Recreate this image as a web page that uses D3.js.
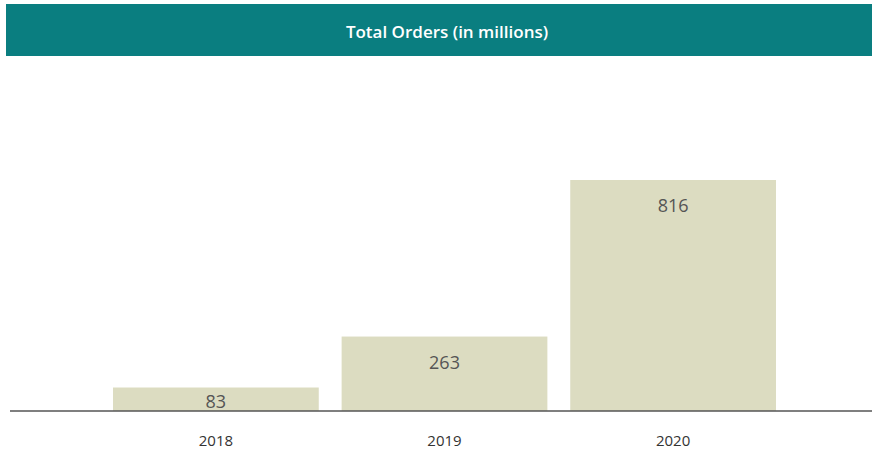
<!DOCTYPE html>
<html>
<head>
<meta charset="utf-8">
<script src="https://cdn.jsdelivr.net/npm/d3@7"></script>
<style>
  body { margin: 0; background: #fff; }
  svg { display: block; font-family: "Open Sans", Lato, sans-serif; }
</style>
</head>
<body>
<div id="chart"></div>
<script>
const width = 872;
const height = 455;

// values
const years = ["2018", "2019", "2020"];
const orders = [83, 263, 816];
const title = "Total Orders (in millions)";

const svg = d3.select("#chart")
  .append("svg")
  .attr("width", width)
  .attr("height", height);

// header band
svg.append("rect")
  .attr("x", 6).attr("y", 4)
  .attr("width", width - 6).attr("height", 52)
  .attr("fill", "#0a7e80");

svg.append("text")
  .attr("x", 447).attr("y", 31)
  .attr("text-anchor", "middle")
  .attr("dominant-baseline", "central")
  .attr("fill", "#fff")
  .style("font-size", "17px")
  .style("font-weight", 600)
  .text(title);

const x = d3.scaleBand()
  .domain(years)
  .range([113, 776])
  .paddingInner(0.1)
  .paddingOuter(0);

const y = d3.scaleLinear()
  .domain([0, 816])
  .range([411, 180]);

const data = years.map((yr, i) => ({ year: yr, value: orders[i] }));

// bars
svg.append("g")
  .selectAll("rect")
  .data(data)
  .join("rect")
  .attr("x", d => x(d.year))
  .attr("y", d => y(d.value))
  .attr("width", x.bandwidth())
  .attr("height", d => y(0) - y(d.value))
  .attr("fill", "#dcdcc1");

// value labels inside bars
svg.append("g")
  .selectAll("text")
  .data(data)
  .join("text")
  .attr("x", d => x(d.year) + x.bandwidth() / 2)
  .attr("y", d => Math.min(y(d.value) + 25, y(0) - 10))
  .attr("text-anchor", "middle")
  .attr("dominant-baseline", "central")
  .attr("fill", "#555")
  .style("font-size", "18px")
  .text(d => d.value);

// baseline + year labels
const xAxis = d3.axisBottom(x).tickSize(0).tickPadding(24);
const gx = svg.append("g")
  .attr("transform", `translate(0, ${y(0)})`)
  .call(xAxis);
gx.select(".domain").remove();
gx.selectAll("text")
  .attr("fill", "#333")
  .style("font-size", "15px")
  .style("font-family", "\"Open Sans\", Lato, sans-serif");

svg.append("line")
  .attr("x1", 10).attr("x2", width)
  .attr("y1", y(0)).attr("y2", y(0))
  .attr("stroke", "#555")
  .attr("stroke-width", 1.5);
</script>
</body>
</html>
